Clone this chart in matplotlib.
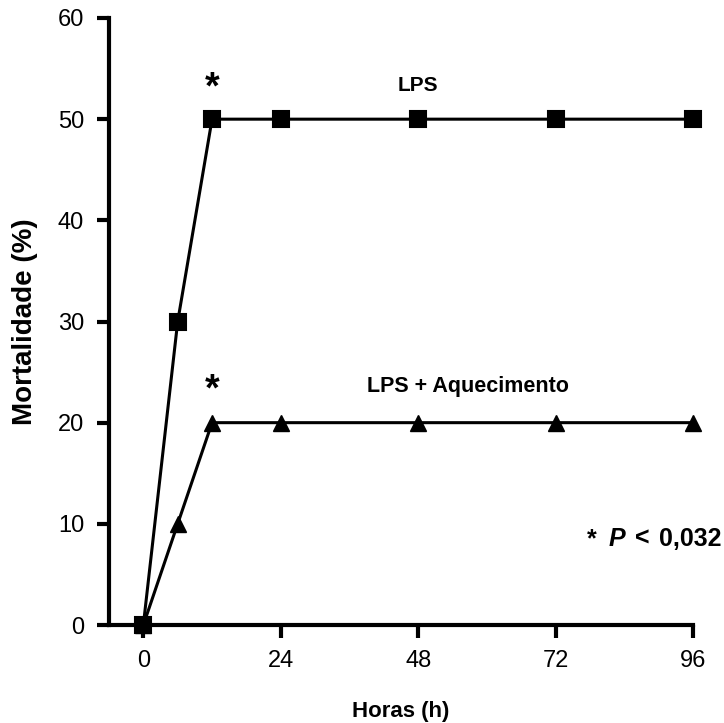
import matplotlib
matplotlib.use("Agg")
import matplotlib.pyplot as plt

hours = [0, 6, 12, 24, 48, 72, 96]
lps = [0, 30, 50, 50, 50, 50, 50]
lps_heat = [0, 10, 20, 20, 20, 20, 20]
xticks = [0, 24, 48, 72, 96]
yticks = [0, 10, 20, 30, 40, 50, 60]

plt.rcParams['font.family'] = ['Liberation Sans', 'DejaVu Sans']

W, H = 724, 723
fig = plt.figure(figsize=(W / 100, H / 100), dpi=100)
ax = fig.add_axes([109 / W, (H - 625) / H, (693 - 109) / W, (625 - 18) / H])

ax.plot(hours, lps, color='black', lw=2.2, marker='s', ms=12,
        markeredgewidth=1.5, solid_joinstyle='round', clip_on=False, zorder=3)
ax.plot(hours, lps_heat, color='black', lw=2.2, marker='^', ms=11.5,
        markeredgewidth=1.0, clip_on=False, zorder=3)

ax.set_xlim(-6, 96)
ax.set_ylim(0, 60)
ax.set_xticks(xticks)
ax.set_yticks(yticks)
for s in ['top', 'right']:
    ax.spines[s].set_visible(False)
for s in ['left', 'bottom']:
    ax.spines[s].set_linewidth(3)
ax.tick_params(axis='both', direction='out', length=9, width=3,
               labelsize=17, pad=9)

ax.set_ylabel('Mortalidade (%)', fontsize=20, fontweight='bold', labelpad=14)
ax.set_xlabel('Horas (h)', fontsize=16, fontweight='bold', labelpad=21)

ax.text(12, 53.0, '*', fontsize=27, fontweight='bold', ha='center', va='center')
ax.text(12, 23.2, '*', fontsize=27, fontweight='bold', ha='center', va='center')
ax.text(48, 53.3, 'LPS', fontsize=15, fontweight='bold', ha='center', va='center')
ax.text(56.7, 23.6, 'LPS + Aquecimento', fontsize=15.5, fontweight='bold',
        ha='center', va='center')

# P-value note
yb = 1 - 546 / H
fig.text(587 / W, yb, '*', fontsize=18, fontweight='bold', ha='left', va='baseline')
fig.text(609 / W, yb, 'P', fontsize=18, fontweight='bold', style='italic',
         ha='left', va='baseline')
fig.text(635 / W, yb, '<', fontsize=18, fontweight='bold', ha='left', va='baseline')
fig.text(721 / W, yb, '0,032', fontsize=18, fontweight='bold', ha='right',
         va='baseline')

fig.savefig('out.png', dpi=100)
